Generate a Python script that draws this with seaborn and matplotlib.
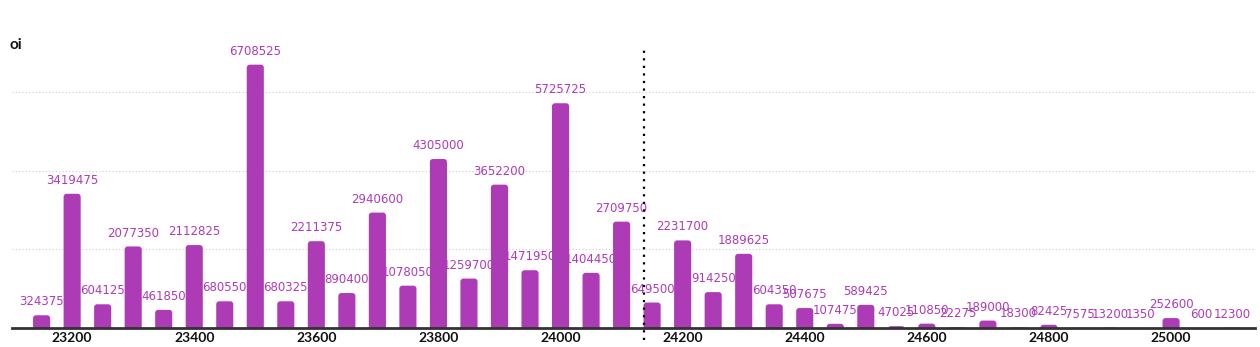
import matplotlib
matplotlib.use("Agg")
import matplotlib.pyplot as plt
from matplotlib.patches import FancyBboxPatch
import seaborn as sns
import pandas as pd

# Open interest by strike
strikes = [23150, 23200, 23250, 23300, 23350, 23400, 23450, 23500, 23550, 23600,
           23650, 23700, 23750, 23800, 23850, 23900, 23950, 24000, 24050, 24100,
           24150, 24200, 24250, 24300, 24350, 24400, 24450, 24500, 24550, 24600,
           24650, 24700, 24750, 24800, 24850, 24900, 24950, 25000, 25050, 25100]
oi = [324375, 3419475, 604125, 2077350, 461850, 2112825, 680550, 6708525, 680325, 2211375,
      890400, 2940600, 1078050, 4305000, 1259700, 3652200, 1471950, 5725725, 1404450, 2709750,
      649500, 2231700, 914250, 1889625, 604350, 507675, 107475, 589425, 47025, 110850,
      22275, 189000, 18300, 82425, 7575, 13200, 1350, 252600, 600, 12300]
tick_values = [23200, 23400, 23600, 23800, 24000, 24200, 24400, 24600, 24800, 25000]
spot = 24137

purple = "#ad3bb5"
df = pd.DataFrame({"strike": strikes, "oi": oi})

sns.set_theme(style="white")
plt.rcParams["font.family"] = ["Lato", "DejaVu Sans"]

fig = plt.figure(figsize=(12.6, 3.47), dpi=100)
ax = fig.add_axes([12 / 1260, 19 / 347, 1243 / 1260, 288 / 347])

sns.barplot(data=df, x="strike", y="oi", native_scale=True, width=0.56,
            color=purple, saturation=1, ax=ax, zorder=3)

xlim = (23101.5, 25137.5)
ylim = (0, 7.337e6)
ax.set_xlim(*xlim)
ax.set_ylim(*ylim)

# Replace plain rectangles with top-rounded bars
bbox = ax.get_position()
fig_w, fig_h = fig.get_size_inches() * fig.dpi
px_x = (xlim[1] - xlim[0]) / (bbox.width * fig_w)
px_y = (ylim[1] - ylim[0]) / (bbox.height * fig_h)
aspect = px_y / px_x
r = 3 * px_x
for p in list(ax.patches):
    x0, w, h = p.get_x(), p.get_width(), p.get_height()
    ext = 2 * r * aspect
    fb = FancyBboxPatch((x0, -ext), w, h + ext,
                        boxstyle=f"round,pad=0,rounding_size={r}",
                        mutation_aspect=aspect, facecolor=purple,
                        edgecolor="none", zorder=3)
    p.remove()
    ax.add_patch(fb)

for s, v in zip(strikes, oi):
    ax.annotate(f"{v}", (s, v), xytext=(0, 5), textcoords="offset points",
                ha="center", va="bottom", fontsize=8.5, color=purple, zorder=4,
                family="DejaVu Sans")

for g in [2e6, 4e6, 6e6]:
    ax.axhline(g, color="#cccccc", lw=0.8, ls=(0, (1, 2)), zorder=1)

ax.axvline(spot, ymin=-0.042, ymax=0.972, color="black", lw=1.6,
           ls=(0, (1, 2.4)), clip_on=False, zorder=5)

ax.set_xticks(tick_values)
ax.set_xticklabels([str(t) for t in tick_values], fontsize=10, fontweight="bold",
                   color="#111111")
ax.tick_params(axis="x", length=0, pad=3)
ax.set_yticks([])
ax.set_xlabel("")
ax.set_ylabel("")
for side in ["top", "right", "left"]:
    ax.spines[side].set_visible(False)
ax.spines["bottom"].set_color("#333333")
ax.spines["bottom"].set_linewidth(2)
ax.spines["bottom"].set_zorder(6)

fig.text(9 / 1260, 1 - 45 / 347, "oi", fontsize=11, fontweight="bold",
         color="#111111", va="center", ha="left")

fig.savefig("out.png", dpi=100)
